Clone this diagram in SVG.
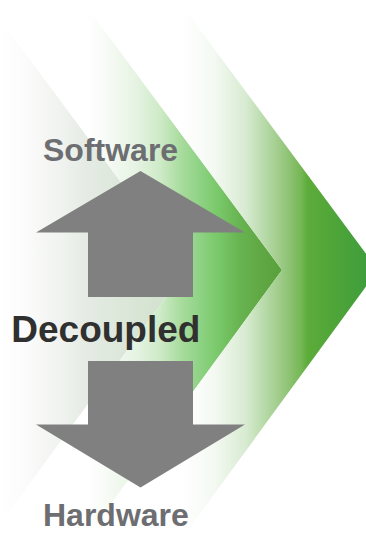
<svg xmlns="http://www.w3.org/2000/svg" width="366" height="534" viewBox="0 0 366 534">
  <style>
    .label { font-family: "Liberation Sans", Arial, sans-serif; font-weight: bold; }
    .side { font-size: 32px; fill: #6d6e72; }
    .core { font-size: 37px; fill: #303030; }
    .block { fill: #808080; }
  </style>
  <defs>
    <!-- horizontal fades, white on the left, green towards each tip -->
    <linearGradient id="fade-1" gradientUnits="userSpaceOnUse" x1="0" y1="0" x2="186" y2="0">
      <stop offset="0" stop-color="#ffffff"/>
      <stop offset="0.15" stop-color="#fafbfa"/>
      <stop offset="0.32" stop-color="#f1f3f0"/>
      <stop offset="0.47" stop-color="#e4ebe3"/>
      <stop offset="1" stop-color="#cde0c9"/>
    </linearGradient>
    <linearGradient id="fade-2" gradientUnits="userSpaceOnUse" x1="87" y1="0" x2="282" y2="0">
      <stop offset="0" stop-color="#ffffff"/>
      <stop offset="0.1" stop-color="#f7fbf6"/>
      <stop offset="0.25" stop-color="#e6f3e3"/>
      <stop offset="0.38" stop-color="#cdeac6"/>
      <stop offset="0.48" stop-color="#a9dc9d"/>
      <stop offset="0.58" stop-color="#8ed284"/>
      <stop offset="0.66" stop-color="#7bca6c"/>
      <stop offset="0.78" stop-color="#68b452"/>
      <stop offset="0.89" stop-color="#60a844"/>
      <stop offset="1" stop-color="#58a03a"/>
    </linearGradient>
    <linearGradient id="fade-3" gradientUnits="userSpaceOnUse" x1="183" y1="0" x2="378" y2="0">
      <stop offset="0" stop-color="#ffffff"/>
      <stop offset="0.16" stop-color="#f4f9f2"/>
      <stop offset="0.32" stop-color="#d8ebd2"/>
      <stop offset="0.39" stop-color="#c0dfb4"/>
      <stop offset="0.5" stop-color="#9ecb88"/>
      <stop offset="0.6" stop-color="#78b858"/>
      <stop offset="0.64" stop-color="#5cac3a"/>
      <stop offset="0.75" stop-color="#52a638"/>
      <stop offset="0.94" stop-color="#3f9e3c"/>
      <stop offset="1" stop-color="#3a9b3d"/>
    </linearGradient>
  </defs>

  <!-- chevron bands, each notch sits on the previous tip -->
  <g id="chevron-1">
    <polygon points="-120,0 -14,0 186,270 -7,534 -120,534" fill="url(#fade-1)"/>
  </g>
  <g id="chevron-2">
    <polygon points="-14,0 82,0 282,270 89,534 -7,534 186,270" fill="url(#fade-2)"/>
  </g>
  <g id="chevron-3">
    <polygon points="82,0 178,0 378,270 185,534 89,534 282,270" fill="url(#fade-3)"/>
  </g>

  <!-- block arrows -->
  <g id="arrow-up">
    <polygon class="block" points="140.5,171 245,232.5 193,232.5 193,297 88,297 88,232.5 36,232.5"/>
  </g>
  <g id="arrow-down">
    <polygon class="block" points="88,361 193,361 193,424.5 245,424.5 140.5,487.5 36,424.5 88,424.5"/>
  </g>

  <!-- labels -->
  <g id="label-software">
    <text class="label side" x="43" y="160.5">Software</text>
  </g>
  <g id="label-decoupled">
    <text class="label core" x="11.3" y="341.5">Decoupled</text>
  </g>
  <g id="label-hardware">
    <text class="label side" x="43" y="526">Hardware</text>
  </g>
</svg>
